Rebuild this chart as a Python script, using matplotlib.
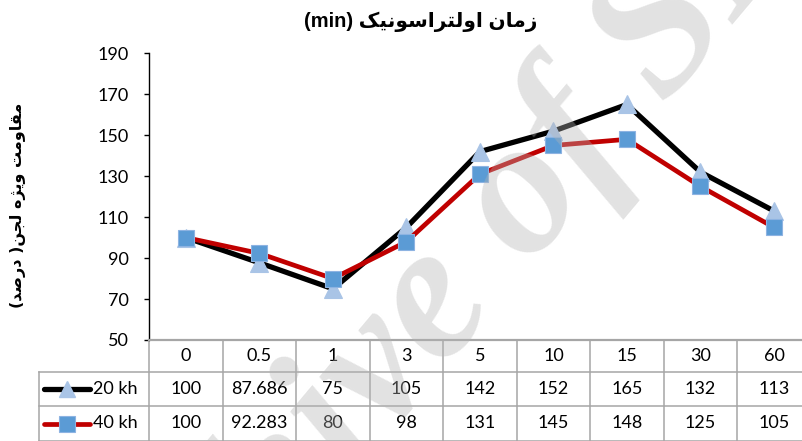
import matplotlib
matplotlib.use("Agg")
import matplotlib.pyplot as plt
import matplotlib.transforms as mtransforms

# ---------------- data ----------------
categories = ['0', '0.5', '1', '3', '5', '10', '15', '30', '60']
series_names = ['20 kh', '40 kh']
s20 = [100, 87.686, 75, 105, 142, 152, 165, 132, 113]
s40 = [100, 92.283, 80, 98, 131, 145, 148, 125, 105]
yticks = [50, 70, 90, 110, 130, 150, 170, 190]
title_fa = 'زمان اولتراسونیک'
title_unit = '(min)'
ylabel_fa = 'مقاومت ویژه لجن'
ylabel_par = 'درصد'
watermark = 'Archive of SID'

# ---------------- simple Persian shaping ----------------
FORMS = {
    '\u0627': ('\uFE8D', '\uFE8E', None, None),      # alef
    '\u062F': ('\uFEA9', '\uFEAA', None, None),      # dal
    '\u0631': ('\uFEAD', '\uFEAE', None, None),      # reh
    '\u0632': ('\uFEAF', '\uFEB0', None, None),      # zain
    '\u0698': ('\uFB8A', '\uFB8B', None, None),      # jeh
    '\u0648': ('\uFEED', '\uFEEE', None, None),      # waw
    '\u0647': ('\uFEE9', '\uFEEA', '\uFEEB', '\uFEEC'),
    '\u0645': ('\uFEE1', '\uFEE2', '\uFEE3', '\uFEE4'),
    '\u0646': ('\uFEE5', '\uFEE6', '\uFEE7', '\uFEE8'),
    '\u0644': ('\uFEDD', '\uFEDE', '\uFEDF', '\uFEE0'),
    '\u062A': ('\uFE95', '\uFE96', '\uFE97', '\uFE98'),
    '\u0633': ('\uFEB1', '\uFEB2', '\uFEB3', '\uFEB4'),
    '\u06CC': ('\uFBFC', '\uFBFD', '\uFBFE', '\uFBFF'),
    '\u06A9': ('\uFB8E', '\uFB8F', '\uFB90', '\uFB91'),
    '\u0642': ('\uFED5', '\uFED6', '\uFED7', '\uFED8'),
    '\u062C': ('\uFE9D', '\uFE9E', '\uFE9F', '\uFEA0'),
    '\u0635': ('\uFEB9', '\uFEBA', '\uFEBB', '\uFEBC'),
}


def shape(text):
    out = []
    for i, c in enumerate(text):
        if c not in FORMS:
            out.append(c)
            continue
        prev = text[i - 1] if i > 0 else None
        nxt = text[i + 1] if i + 1 < len(text) else None
        jp = prev in FORMS and FORMS[prev][2] is not None
        jn = nxt in FORMS and FORMS[c][2] is not None
        iso, fin, ini, med = FORMS[c]
        out.append(med if (jp and jn) else fin if jp else ini if jn else iso)
    return ''.join(out)


def rtl(text):
    return shape(text)[::-1]


# ---------------- figure ----------------
W, H = 803, 441
fig = plt.figure(figsize=(W / 100, H / 100), dpi=100)
ax_left, ax_right = 149.2, 810.7
ax_top, ax_bot = 53.3, 340.0
ax = fig.add_axes([ax_left / W, 1 - ax_bot / H, (ax_right - ax_left) / W, (ax_bot - ax_top) / H])

x = list(range(len(categories)))
ax.plot(x, s20, color='black', lw=3.8, marker='^', ms=12.5, mfc='#a9c4e6', mec='#a9c4e6',
        mew=0.8, solid_joinstyle='round', zorder=3)
ax.plot(x, s40, color='#c00000', lw=3.4, marker='s', ms=11.5, mfc='#5b9bd5', mec='#8db3e2',
        mew=0.8, solid_joinstyle='round', zorder=4)

ax.set_xlim(-0.5, len(categories) - 0.5)
ax.set_ylim(50, 190)
ax.set_yticks(yticks)
ax.set_xticks([])
for s in ['top', 'right']:
    ax.spines[s].set_visible(False)
ax.spines['left'].set_color('black')
ax.spines['left'].set_linewidth(1.0)
ax.spines['bottom'].set_color('#a6a6a6')
ax.spines['bottom'].set_linewidth(1.6)
ax.tick_params(axis='y', direction='out', length=3.8, width=1.0, pad=11, labelsize=13)
for lab in ax.get_yticklabels():
    lab.set_fontfamily('Lato')

# ---------------- data table ----------------
trans = mtransforms.blended_transform_factory(ax.transData, ax.transAxes)
ah = ax_bot - ax_top
row_b = [-(372 - ax_bot) / ah, -(406 - ax_bot) / ah, -(441 - ax_bot) / ah]
gcol = '#a6a6a6'
n = len(categories)
lbl_left = -2.0
for i, yb in enumerate(row_b):
    ax.plot([lbl_left, n - 0.5], [yb, yb], color=gcol, lw=1.1, transform=trans, clip_on=False)
for k in range(n + 1):
    ax.plot([k - 0.5, k - 0.5], [0, row_b[-1]], color=gcol, lw=1.1, transform=trans, clip_on=False)
ax.plot([lbl_left, lbl_left], [row_b[0], row_b[-1]], color=gcol, lw=1.1, transform=trans, clip_on=False)

row_c = [(0 + row_b[0]) / 2, (row_b[0] + row_b[1]) / 2, (row_b[1] + row_b[2]) / 2]
for i, c in enumerate(categories):
    ax.text(i, row_c[0], c, transform=trans, ha='center', va='center', fontsize=13,
            family='Lato', color='black')
    ax.text(i, row_c[1], f'{s20[i]:g}', transform=trans, ha='center', va='center', fontsize=13,
            family='Lato', color='black')
    ax.text(i, row_c[2], f'{s40[i]:g}', transform=trans, ha='center', va='center', fontsize=13,
            family='Lato', color='black')

# legend keys inside table
ax.plot([-1.93, -1.30], [row_c[1]] * 2, color='black', lw=3.8, solid_capstyle='round',
        transform=trans, clip_on=False)
ax.plot([-1.615], [row_c[1]], marker='^', ms=12, mfc='#a9c4e6', mec='#a9c4e6',
        transform=trans, clip_on=False, lw=0)
ax.plot([-1.93, -1.30], [row_c[2]] * 2, color='#c00000', lw=3.4, solid_capstyle='round',
        transform=trans, clip_on=False)
ax.plot([-1.615], [row_c[2]], marker='s', ms=11, mfc='#5b9bd5', mec='#8db3e2', mew=0.8,
        transform=trans, clip_on=False, lw=0)
ax.text(-1.27, row_c[1], series_names[0], transform=trans, ha='left', va='center',
        fontsize=13, family='Lato')
ax.text(-1.27, row_c[2], series_names[1], transform=trans, ha='left', va='center',
        fontsize=13, family='Lato')

# ---------------- titles ----------------
fig.text(421 / W, 1 - 22 / H, title_unit + ' ' + rtl(title_fa), ha='center', va='center',
         fontsize=14.5, fontweight='bold', family=['Liberation Sans', 'DejaVu Sans'])
ylab = '(' + rtl(ylabel_par) + ' )' + rtl(ylabel_fa)
fig.text(18 / W, 1 - 205 / H, ylab, ha='center', va='center', rotation=90,
         fontsize=11.5, fontweight='bold', family=['DejaVu Sans'])

# ---------------- watermark ----------------
fig.text(452 / W, 1 - 298 / H, watermark, ha='center', va='center', rotation=50,
         fontsize=140, family='Liberation Serif', style='italic', fontweight='bold',
         color='#b4b4b4', alpha=0.38, zorder=10)

fig.savefig('out.png', dpi=100)
